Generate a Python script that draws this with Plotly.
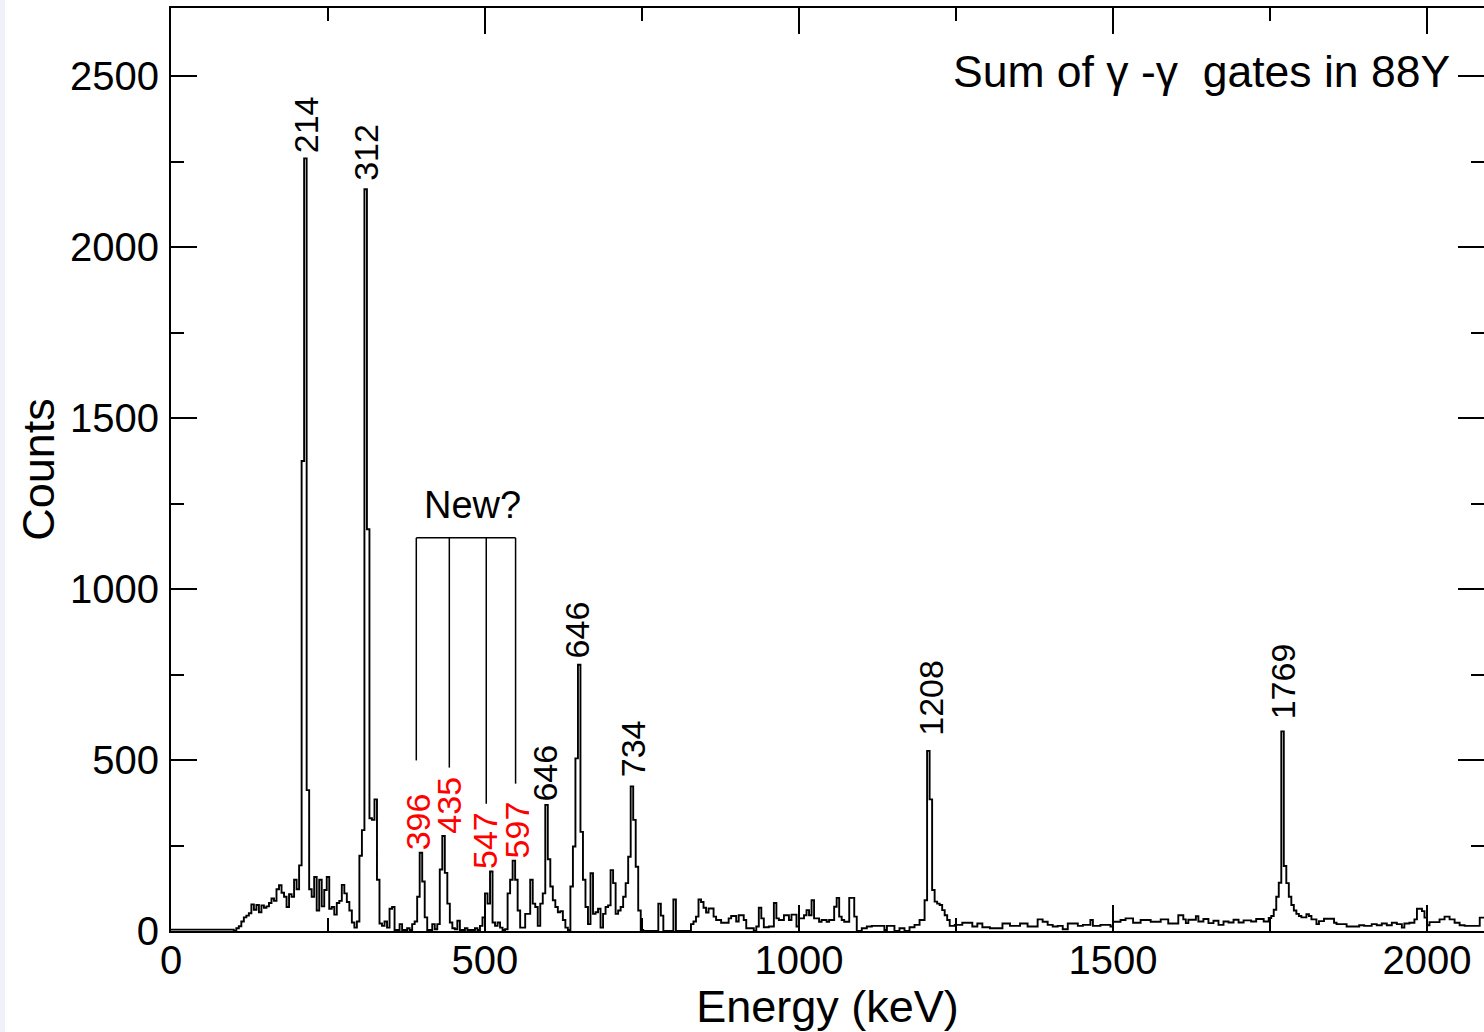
import plotly.graph_objects as go

BIN_WIDTH = 4  # keV per channel

# Counts per 4-keV bin, starting at 0 keV
counts = [
    # 0-96
    4, 4, 4, 4, 4, 4, 4, 4, 4, 4, 4, 4, 4, 4, 4, 4, 4, 4, 4, 4, 4, 4, 4, 4, 4,
    # 100-196
    0, 8, 14, 28, 40, 45, 52, 78, 62, 76, 55, 75, 68, 72, 82, 95, 88, 122, 134, 112, 100, 70, 108, 100, 150,
    # 200-296
    122, 192, 1375, 2260, 412, 122, 100, 158, 60, 150, 72, 120, 158, 65, 70, 48, 82, 88, 135, 110, 85, 60, 25, 10, 28,
    # 300-396
    220, 295, 2170, 1175, 330, 325, 385, 150, 22, 15, 28, 10, 65, 70, 3, 3, 20, 3, 3, 8, 3, 20, 28, 100, 229,
    # 400-496
    145, 40, 3, 3, 20, 5, 20, 180, 278, 170, 80, 25, 8, 5, 30, 3, 3, 8, 3, 3, 3, 8, 3, 15, 40,
    # 500-596
    110, 80, 174, 25, 15, 25, 10, 3, 5, 110, 150, 206, 150, 60, 10, 10, 50, 50, 150, 80, 70, 15, 80, 110, 369,
    # 600-696
    210, 130, 90, 70, 55, 58, 32, 10, 3, 130, 247, 505, 779, 290, 150, 70, 20, 169, 50, 55, 65, 10, 50, 70, 75,
    # 700-796
    178, 140, 50, 60, 70, 100, 140, 217, 423, 325, 188, 60, 3, 0, 0, 0, 0, 0, 0, 80, 45, 0, 0, 0, 0,
    # 800-896
    92, 0, 0, 0, 0, 0, 0, 20, 28, 42, 92, 85, 68, 54, 66, 66, 42, 32, 32, 24, 24, 24, 37, 44, 44,
    # 900-996
    28, 46, 46, 32, 8, 8, 8, 0, 13, 68, 37, 11, 11, 13, 13, 82, 37, 32, 32, 46, 46, 32, 48, 48, 13,
    # 1000-1096
    37, 37, 46, 61, 46, 90, 37, 37, 27, 32, 32, 27, 32, 32, 71, 97, 42, 32, 27, 27, 97, 97, 42, 0, 0,
    # 1100-1196
    8, 8, 13, 13, 15, 15, 15, 15, 15, 3, 15, 15, 15, 0, 0, 8, 8, 0, 0, 11, 11, 18, 18, 32, 32,
    # 1200-1296
    90, 527, 385, 120, 86, 80, 76, 61, 46, 32, 15, 15, 18, 18, 18, 24, 24, 24, 24, 13, 13, 22, 22, 11, 11,
    # 1300-1396
    11, 8, 8, 8, 8, 8, 22, 22, 22, 15, 15, 15, 15, 22, 22, 22, 13, 13, 13, 13, 34, 34, 27, 27, 18,
    # 1400-1496
    18, 13, 13, 15, 15, 5, 5, 22, 22, 22, 22, 15, 15, 18, 18, 18, 32, 15, 15, 15, 18, 18, 18, 18, 13,
    # 1500-1596
    27, 27, 27, 32, 32, 37, 37, 37, 24, 24, 24, 32, 32, 32, 32, 27, 27, 27, 27, 34, 34, 34, 22, 22, 22,
    # 1600-1696
    22, 46, 46, 34, 23, 33, 33, 33, 43, 28, 28, 35, 35, 23, 23, 30, 30, 18, 18, 28, 28, 25, 25, 33, 33,
    # 1700-1796
    25, 25, 31, 31, 31, 28, 28, 35, 35, 35, 28, 28, 38, 44, 62, 100, 141, 584, 190, 140, 100, 76, 60, 50, 44,
    # 1800-1896
    40, 40, 49, 44, 34, 34, 20, 29, 29, 36, 36, 36, 36, 24, 20, 20, 20, 20, 13, 13, 13, 13, 13, 17, 17,
    # 1900-1996
    15, 15, 15, 20, 20, 17, 17, 22, 22, 17, 17, 24, 24, 20, 20, 10, 22, 22, 24, 24, 34, 65, 65, 58, 39,
    # 2000-2088
    17, 26, 26, 26, 26, 34, 34, 42, 42, 34, 34, 24, 24, 17, 17, 15, 15, 15, 15, 15, 15, 39, 39,
]

# Peak labels (black) and candidate new lines (red)
peak_labels = ["214", "312", "646", "646", "734", "1208", "1769"]
peak_label_x = [214.6, 310.5, 596, 647, 737, 1209, 1770]
peak_label_y = [2270, 2190, 372, 791, 445, 566, 612]

new_labels = ["396", "435", "547", "597"]
new_label_x = [393, 443, 501, 551]
new_label_y = [231, 278, 176, 205]

# "New?" bracket
bracket_x = [390.6, 443.2, 502.0, 548.7]
bracket_bottom = [499, 478, 372, 431]
bracket_top = 1150
new_text_x, new_text_y = 480, 1245

X_MAX, Y_MAX = 2090.8, 2700

FONT = "Liberation Sans, Arial, Helvetica, sans-serif"

edges = [i * BIN_WIDTH for i in range(len(counts) + 1)]
ys = counts + [counts[-1]]

fig = go.Figure()
fig.add_trace(go.Scatter(
    x=edges, y=ys, mode="lines", line=dict(shape="hv", color="black", width=1.9),
    showlegend=False, hoverinfo="skip",
))
fig.add_trace(go.Scatter(x=[None], y=[None], yaxis="y2", showlegend=False, hoverinfo="skip"))

annotations = []
for t, x, y in zip(peak_labels, peak_label_x, peak_label_y):
    annotations.append(dict(x=x, y=y, text=t, textangle=-90, showarrow=False,
                            xanchor="center", yanchor="bottom",
                            font=dict(family=FONT, size=34, color="black")))
for t, x, y in zip(new_labels, new_label_x, new_label_y):
    annotations.append(dict(x=x, y=y, text=t, textangle=-90, showarrow=False,
                            xanchor="center", yanchor="bottom",
                            font=dict(family=FONT, size=34, color="#ff0000")))
annotations.append(dict(x=new_text_x, y=new_text_y, text="New?", showarrow=False,
                        xanchor="center", yanchor="middle",
                        font=dict(family=FONT, size=38, color="black")))
annotations.append(dict(xref="paper", yref="paper", x=0.976, y=0.9307,
                        text="Sum of \u03b3\u00a0-\u03b3\u00a0\u00a0gates in 88Y", showarrow=False,
                        xanchor="right", yanchor="middle",
                        font=dict(family=FONT, size=44.5, color="black")))

shapes = [dict(type="line", x0=bracket_x[0], x1=bracket_x[-1], y0=bracket_top, y1=bracket_top,
               line=dict(color="black", width=1.5))]
for bx, bb in zip(bracket_x, bracket_bottom):
    shapes.append(dict(type="line", x0=bx, x1=bx, y0=bracket_top, y1=bb,
                       line=dict(color="black", width=1.5)))
# faint page edge strip at the far left
shapes.append(dict(type="rect", xref="paper", yref="paper",
                   x0=-171 / 1313, x1=-166 / 1313, y0=-101 / 923, y1=931 / 923,
                   fillcolor="#eef0fa", line=dict(width=0), layer="below"))

tick_common = dict(ticks="inside", ticklen=26, tickwidth=1.7, tickcolor="black",
                   showline=True, linewidth=2, linecolor="black", showgrid=False,
                   zeroline=False, automargin=False,
                   tickfont=dict(family=FONT, size=40, color="black"))

fig.update_layout(
    width=1484, height=1032,
    margin=dict(l=171, r=0, t=8, b=101, autoexpand=False),
    paper_bgcolor="white", plot_bgcolor="white",
    xaxis=dict(range=[0, X_MAX], dtick=500, tick0=0, mirror="ticks",
               minor=dict(dtick=250, ticklen=13, tickwidth=1.7, ticks="inside", tickcolor="black"),
               title=dict(text="Energy (keV)", font=dict(family=FONT, size=45, color="black"), standoff=22),
               ticklabelstandoff=-7,
               **tick_common),
    yaxis=dict(range=[0, Y_MAX], dtick=500, tick0=0,
               minor=dict(dtick=250, ticklen=13, tickwidth=1.7, ticks="inside", tickcolor="black"),
               title=dict(text="Counts", font=dict(family=FONT, size=45, color="black"), standoff=1),
               ticklabelstandoff=2,
               **tick_common),
    yaxis2=dict(overlaying="y", side="right", range=[0, Y_MAX], dtick=500, tick0=0,
                ticks="inside", ticklen=26, tickwidth=1.7, tickcolor="black", automargin=False,
                minor=dict(dtick=250, ticklen=13, tickwidth=1.7, ticks="inside", tickcolor="black"),
                showticklabels=False, showline=False, showgrid=False, zeroline=False),
    annotations=annotations,
    shapes=shapes,
)

fig.write_html("out.html", config={"displayModeBar": False},
               post_script="document.body.style.margin='0px';")
